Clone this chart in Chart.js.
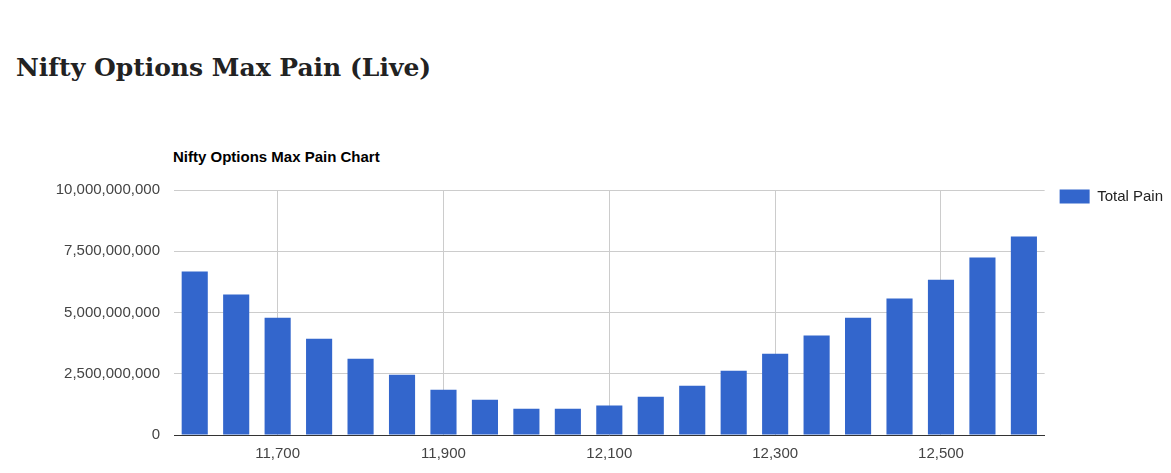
<!DOCTYPE html>
<html>
<head>
<meta charset="utf-8">
<script src="https://cdn.jsdelivr.net/npm/chart.js@4"></script>
<style>
  body { margin: 0; background: #fff; width: 1171px; height: 473px; overflow: hidden; position: relative; }
  h1 { position: absolute; left: 16px; top: 53px; margin: 0; font: bold 25px "DejaVu Serif", serif; color: #222; white-space: nowrap; }
  #ctitle { position: absolute; left: 173px; top: 148px; font: bold 15px "Liberation Sans", Arial, sans-serif; color: #000; }
  #wrap { position: absolute; left: 0; top: 170px; width: 1178px; height: 303px; }
</style>
</head>
<body>
<h1>Nifty Options Max Pain (Live)</h1>
<div id="ctitle">Nifty Options Max Pain Chart</div>
<div id="wrap"><canvas id="chart"></canvas></div>
<script>
// strike prices (x axis)
const strikes = [11600, 11650, 11700, 11750, 11800, 11850, 11900, 11950, 12000, 12050,
                 12100, 12150, 12200, 12250, 12300, 12350, 12400, 12450, 12500, 12550, 12600];

// total pain per strike
const totalPain = [6670000000, 5730000000, 4790000000, 3930000000, 3110000000, 2460000000,
                   1850000000, 1440000000, 1070000000, 1070000000, 1200000000, 1560000000,
                   2010000000, 2620000000, 3320000000, 4060000000, 4790000000, 5570000000,
                   6340000000, 7240000000, 8100000000];

// strikes that get a label + gridline
const labelledStrikes = [11700, 11900, 12100, 12300, 12500];

const fmt = v => Number(v).toLocaleString('en-US');
const isLabelled = i => labelledStrikes.includes(strikes[i]);

Chart.defaults.font.family = '"Liberation Sans", Arial, sans-serif';
Chart.defaults.font.size = 15;
Chart.defaults.color = '#444';

const ctx = document.getElementById('chart').getContext('2d');
const chart = new Chart(ctx, {
    type: 'bar',
    data: {
        labels: strikes,
        datasets: [{
            label: 'Total Pain',
            data: totalPain,
            backgroundColor: '#3366cc',
            barPercentage: 0.63,
            categoryPercentage: 1
        }]
    },
    options: {
        responsive: true,
        maintainAspectRatio: false,
        animation: false,
        layout: { padding: { top: 4, right: 5, bottom: 0, left: 0 } },
        plugins: {
            tooltip: { enabled: false },
            legend: {
                position: 'right',
                align: 'start',
                labels: {
                    boxWidth: 30,
                    boxHeight: 14,
                    padding: 15,
                    color: '#222',
                    font: { size: 15 }
                }
            }
        },
        scales: {
            x: {
                grid: {
                    offset: false,
                    drawTicks: false,
                    color: c => isLabelled(c.index) ? '#cccccc' : 'rgba(0,0,0,0)'
                },
                border: { color: '#333333', width: 1 },
                ticks: {
                    autoSkip: false,
                    maxRotation: 0,
                    padding: 10,
                    callback: (v, i) => isLabelled(i) ? fmt(strikes[i]) : ''
                }
            },
            y: {
                min: 0,
                max: 10000000000,
                afterFit: s => { s.width = 174; },
                grid: { color: '#cccccc', drawTicks: false },
                border: { display: false },
                ticks: {
                    stepSize: 2500000000,
                    padding: 14,
                    font: { size: 15, lineHeight: 0.8 },
                    callback: v => fmt(v)
                }
            }
        }
    }
});
</script>
</body>
</html>
